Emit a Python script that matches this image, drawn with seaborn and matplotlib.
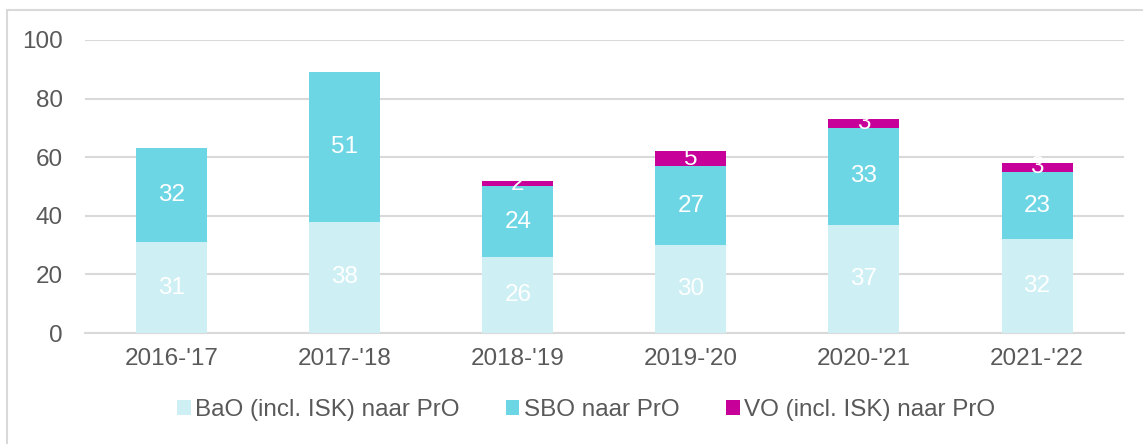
import numpy as np
import pandas as pd
import seaborn as sns
import matplotlib.pyplot as plt
from matplotlib.patches import Rectangle

# Data
years = ["2016-'17", "2017-'18", "2018-'19", "2019-'20", "2020-'21", "2021-'22"]
bao = [31, 38, 26, 30, 37, 32]
sbo = [32, 51, 24, 27, 33, 23]
vo = [0, 0, 2, 5, 3, 3]
series_names = ["BaO (incl. ISK) naar PrO", "SBO naar PrO", "VO (incl. ISK) naar PrO"]
colors = ["#CEF0F4", "#6DD6E4", "#C8009A"]

sns.set_theme(style="white")
plt.rcParams['font.family'] = ['Liberation Sans', 'DejaVu Sans']
text_color = "#595959"
fs = 17.5

fig = plt.figure(figsize=(11.43, 4.44), dpi=100)
ax = fig.add_axes([0.0744, 0.25, 0.9086, 0.66])

# light frame around the chart area
fig.patches.append(Rectangle((0.006, -0.1), 1.1, 1.077, transform=fig.transFigure,
                             fill=False, edgecolor="#d9d9d9", linewidth=1.5))

df = pd.DataFrame({"year": years, series_names[0]: bao,
                   series_names[1]: sbo, series_names[2]: vo})

bottom = np.zeros(len(years))
for name, color in zip(series_names, colors):
    vals = df[name].to_numpy()
    sns.barplot(x=df["year"], y=vals, bottom=bottom, color=color, ax=ax,
                width=0.41, label=name, saturation=1, linewidth=0, zorder=3)
    for i, v in enumerate(vals):
        if v > 0:
            ax.text(i, bottom[i] + v / 2, f"{v}", ha="center", va="center",
                    color="white", fontsize=fs, zorder=4)
    bottom = bottom + vals

ax.set_ylim(0, 100)
ax.set_xlim(-0.5, len(years) - 0.5)
ax.set_yticks(range(0, 101, 20))
ax.yaxis.grid(True, color="#d9d9d9", linewidth=1.5, zorder=0)
ax.set_axisbelow(True)
for s in ["top", "right", "left"]:
    ax.spines[s].set_visible(False)
ax.spines["bottom"].set_color("#d9d9d9")
ax.spines["bottom"].set_linewidth(1.5)
ax.tick_params(axis="both", length=0, labelsize=fs, labelcolor=text_color)
ax.tick_params(axis="x", pad=11)
ax.tick_params(axis="y", pad=16)
ax.set_xlabel("")
ax.set_ylabel("")

handles, labels = ax.get_legend_handles_labels()
if ax.get_legend() is not None:
    ax.get_legend().remove()
fig.legend(handles, labels, loc="center", bbox_to_anchor=(0.513, 0.077), ncol=3,
           frameon=False, fontsize=fs, labelcolor=text_color, handlelength=0.55,
           handleheight=0.55, handletextpad=0.2, columnspacing=1.9)

fig.savefig("out.png", dpi=100)
